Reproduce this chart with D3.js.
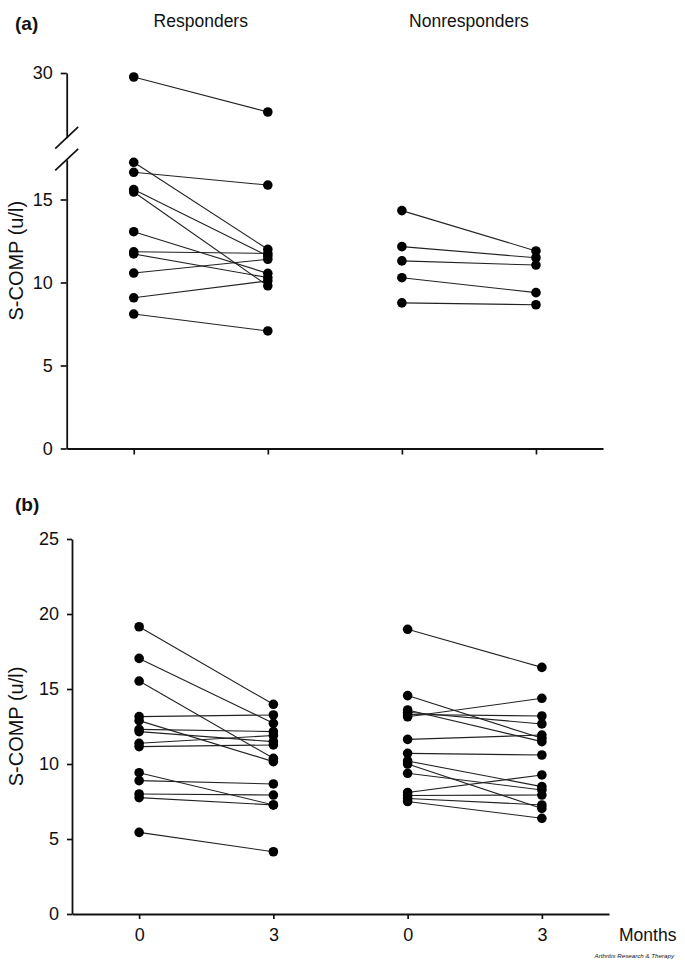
<!DOCTYPE html>
<html><head><meta charset="utf-8">
<script src="https://cdn.jsdelivr.net/npm/d3@7"></script>
<style>
body{margin:0;background:#fff;}
text{font-family:"Liberation Sans",Arial,sans-serif;fill:#111;}
</style></head>
<body>
<script>
// ---- data ----
const groups = ["Responders", "Nonresponders"];
const monthTicks = ["0", "3", "0", "3"];
const yTicksALow = [0, 5, 10, 15];
const yTicksAHigh = [30];
const yTicksB = [0, 5, 10, 15, 20, 25];

// panel (a)
const aResp0 = [29.76, 17.24, 16.64, 15.60, 15.45, 13.06, 11.85, 11.72, 10.57, 9.08, 8.10];
const aResp3 = [27.65, 12.00, 15.87, 11.60, 9.80, 10.55, 11.75, 10.30, 11.40, 10.10, 7.08];
const aNon0 = [14.33, 12.16, 11.30, 10.29, 8.77];
const aNon3 = [11.90, 11.49, 11.05, 9.39, 8.66];

// panel (b)
const bResp0 = [19.15, 17.04, 15.53, 13.16, 12.89, 12.31, 12.16, 11.38, 11.16, 9.42, 8.89, 8.00, 7.76, 5.44];
const bResp3 = [13.98, 12.71, 10.38, 13.27, 10.16, 12.16, 11.49, 11.90, 11.27, 7.27, 8.67, 7.93, 7.27, 4.15];
const bNon0 = [18.98, 14.56, 13.60, 13.45, 13.30, 13.15, 11.64, 10.71, 10.20, 10.00, 9.38, 8.10, 7.90, 7.70, 7.50];
const bNon3 = [16.44, 11.71, 11.49, 12.67, 13.20, 14.38, 11.93, 10.60, 8.49, 7.04, 8.27, 9.27, 7.93, 7.27, 6.38];

const svg = d3.select("body").append("svg").attr("width", 685).attr("height", 960);
const fmt = d3.format("d");

function styleAxis(g) {
  g.selectAll("path,line").attr("stroke", "#111").attr("stroke-width", 1.7);
  g.selectAll("text").style("font-size", "18px").attr("fill", "#111");
}

function drawPairs(g, x, y, v0, v3, i0) {
  const pairs = d3.zip(v0, v3);
  g.selectAll(null).data(pairs).join("line")
    .attr("x1", x(i0)).attr("x2", x(i0 + 1))
    .attr("y1", d => y(d[0])).attr("y2", d => y(d[1]))
    .attr("stroke", "#222").attr("stroke-width", 1.1);
  const pts = pairs.flatMap(d => [{i: i0, v: d[0]}, {i: i0 + 1, v: d[1]}]);
  g.selectAll(null).data(pts).join("circle")
    .attr("cx", d => x(d.i)).attr("cy", d => y(d.v)).attr("r", 4.8).attr("fill", "#000");
}

// ---------- Panel (a) ----------
{
  const x0 = 66.7, x1 = 603, yBase = 448.5, ppu = 16.6, yTop = 73;
  const x = d3.scalePoint().domain(d3.range(4)).range([x0, x1]).padding(0.5);
  const yLow = d3.scaleLinear().domain([0, 17.4]).range([yBase, yBase - 17.4 * ppu]);
  const yHigh = d3.scaleLinear().domain([26.1, 30]).range([yTop + 3.9 * ppu, yTop]);
  const y = v => v > 20 ? yHigh(v) : yLow(v);
  const g = svg.append("g");

  g.append("g").attr("transform", `translate(${x0},0)`)
    .call(d3.axisLeft(yLow).tickValues(yTicksALow).tickFormat(fmt).tickSize(6).tickSizeOuter(0).tickPadding(8)).call(styleAxis);
  g.append("g").attr("transform", `translate(${x0},0)`)
    .call(d3.axisLeft(yHigh).tickValues(yTicksAHigh).tickFormat(fmt).tickSize(6).tickSizeOuter(0).tickPadding(8)).call(styleAxis);
  g.append("g").attr("transform", `translate(0,${yBase})`)
    .call(d3.axisBottom(x).tickSize(6).tickSizeOuter(0).tickFormat("")).call(styleAxis);
  g.selectAll(".domain").attr("stroke-width", 1.8);

  // axis break slashes
  [yHigh.range()[0], yLow.range()[1]].forEach(yy => {
    g.append("line").attr("x1", x0 - 11.5).attr("x2", x0 + 11.5)
      .attr("y1", yy + 10.8).attr("y2", yy - 10.8)
      .attr("stroke", "#111").attr("stroke-width", 1.7);
  });

  drawPairs(g, x, y, aResp0, aResp3, 0);
  drawPairs(g, x, y, aNon0, aNon3, 2);

  g.selectAll(null).data(groups).join("text")
    .attr("x", (d, i) => (x(2 * i) + x(2 * i + 1)) / 2).attr("y", 27)
    .attr("text-anchor", "middle").style("font-size", "17.5px").text(d => d);

  g.append("text").attr("x", 15).attr("y", 30).style("font-size", "19px").style("font-weight", "bold").text("(a)");
  g.append("text").attr("transform", `translate(23,${(yBase + 73) / 2}) rotate(-90)`)
    .attr("text-anchor", "middle").style("font-size", "20px").text("S-COMP (u/l)");
}

// ---------- Panel (b) ----------
{
  const x0 = 72, x1 = 609, yBase = 914, yTop = 539;
  const x = d3.scalePoint().domain(d3.range(4)).range([x0, x1]).padding(0.5);
  const y = d3.scaleLinear().domain([0, 25]).range([yBase, yTop]);
  const g = svg.append("g");

  g.append("g").attr("transform", `translate(${x0},0)`)
    .call(d3.axisLeft(y).tickValues(yTicksB).tickFormat(fmt).tickSize(5).tickSizeOuter(0).tickPadding(8)).call(styleAxis);
  g.append("g").attr("transform", `translate(0,${yBase})`)
    .call(d3.axisBottom(x).tickSize(5).tickSizeOuter(0).tickPadding(9).tickFormat(i => monthTicks[i])).call(styleAxis);
  g.selectAll(".domain").attr("stroke-width", 1.8);

  drawPairs(g, x, y, bResp0, bResp3, 0);
  drawPairs(g, x, y, bNon0, bNon3, 2);

  g.append("text").attr("x", 619).attr("y", 941).style("font-size", "17.5px").text("Months");
  g.append("text").attr("x", 15).attr("y", 511).style("font-size", "19px").style("font-weight", "bold").text("(b)");
  g.append("text").attr("transform", `translate(23,${(yBase + yTop) / 2}) rotate(-90)`)
    .attr("text-anchor", "middle").style("font-size", "20px").text("S-COMP (u/l)");
  g.append("text").attr("x", 674).attr("y", 958).attr("text-anchor", "end")
    .style("font-size", "6.2px").style("font-style", "italic").attr("fill", "#333").text("Arthritis Research & Therapy");
}
</script>
</body></html>
